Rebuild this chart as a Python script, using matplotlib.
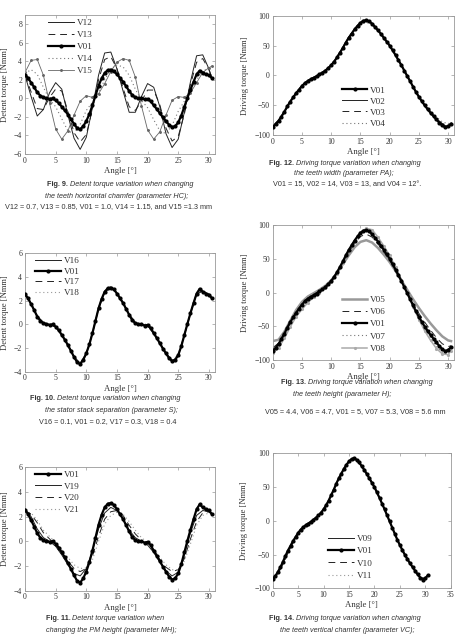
import numpy as np
import matplotlib.pyplot as plt
from matplotlib import font_manager

plt.rcParams['font.family'] = 'Liberation Serif'
plt.rcParams['axes.unicode_minus'] = True

_names = {f.name for f in font_manager.fontManager.ttflist}
CAP_FONT = 'Liberation Sans Narrow' if 'Liberation Sans Narrow' in _names else 'Liberation Sans'
CAP_SIZE = 6.2 if CAP_FONT == 'Liberation Sans Narrow' else 5.25

# ==================== data ====================
ang_fine = np.arange(0, 31, 0.5)          # 0 ... 30.5, step 0.5 deg
ang = np.append(np.arange(0, 31), 30.5)   # 0 ... 30, 30.5

# detent torque, reference design V01
det_v01 = [2.55, 2.2, 1.7, 1.2, 0.65, 0.3, 0.1, 0.0, -0.05, 0.0,
           -0.2, -0.5, -0.9, -1.3, -1.75, -2.25, -2.75, -3.2, -3.35, -3.0,
           -2.45, -1.7, -0.75, 0.3, 1.35, 2.15, 2.75, 3.05, 3.1, 2.95,
           2.6, 2.2, 1.8, 1.3, 0.8, 0.35, 0.1, 0.0, 0.0, -0.1,
           -0.05, -0.3, -0.75, -1.15, -1.6, -2.05, -2.45, -2.85, -3.1, -3.0,
           -2.6, -1.85, -0.9, 0.05, 0.95, 1.8, 2.6, 3.0, 2.75, 2.6,
           2.5, 2.2]

# Fig. 9 (horizontal chamfer)
det_v12 = [2.5, 0.2, -1.9, -1.2, 0.6, 1.7, 1.0, -1.8, -4.3, -5.5, -4.2, -1.0, 2.5, 4.9, 5.0, 3.2,
           0.8, -1.5, -1.5, 0.2, 1.6, 1.2, -0.9, -3.8, -5.3, -4.4, -1.5, 1.8, 4.6, 4.7, 3.2, 2.2]
det_v13 = [2.5, 0.7, -1.1, -1.2, 0.1, 1.0, 0.8, -1.4, -3.7, -4.7, -3.9, -1.2, 2.0, 4.2, 4.5, 3.2,
           1.1, -0.9, -1.3, -0.3, 0.9, 0.9, -0.7, -3.2, -4.6, -4.1, -1.7, 1.5, 3.9, 4.3, 3.1, 2.2]
det_v14 = [2.7, 3.1, 2.6, 1.2, -0.1, -0.9, -2.2, -3.5, -3.8, -2.8, -1.3, -0.4, 0.6, 2.0, 3.2, 3.6,
           3.4, 2.5, 1.0, -0.2, -1.0, -2.3, -3.5, -3.8, -2.9, -1.4, -0.3, 0.7, 2.0, 3.0, 3.2, 3.0]
det_v15 = [2.8, 4.1, 4.2, 2.5, -0.5, -3.3, -4.4, -3.5, -1.8, -0.3, 0.3, 0.1, 0.5, 1.6, 2.9, 3.9,
           4.3, 4.1, 2.3, -0.8, -3.4, -4.4, -3.6, -1.8, -0.2, 0.2, 0.1, 0.6, 1.7, 2.8, 3.3, 3.5]

# Fig. 10 (stator stack separation)
det_v16 = [2.6, 1.7, 0.7, 0.1, -0.05, -0.2, -0.9, -1.8, -2.8, -3.4, -2.5, -0.8, 1.3, 2.7, 3.1, 2.65,
           1.85, 0.85, 0.1, 0.0, -0.1, -0.8, -1.6, -2.5, -3.15, -2.65, -0.95, 0.9, 2.55, 2.8, 2.55, 2.25]
det_v17 = [2.55, 1.75, 0.7, 0.15, 0.0, -0.15, -0.85, -1.7, -2.7, -3.3, -2.45, -0.75, 1.4, 2.8, 3.15, 2.65,
           1.8, 0.8, 0.15, 0.0, -0.05, -0.7, -1.55, -2.4, -3.05, -2.6, -0.9, 1.0, 2.65, 2.8, 2.55, 2.25]
det_v18 = [2.6, 1.8, 0.75, 0.2, 0.0, -0.15, -0.8, -1.7, -2.7, -3.3, -2.4, -0.7, 1.4, 2.8, 3.2, 2.7,
           1.9, 0.9, 0.2, 0.05, 0.0, -0.7, -1.5, -2.4, -3.05, -2.55, -0.85, 1.0, 2.7, 2.85, 2.6, 2.3]

# Fig. 11 (PM height)
det_v19 = [2.5, 2.0, 1.0, 0.3, 0.0, -0.4, -1.1, -1.9, -2.6, -2.8, -2.2, -0.8, 1.0, 2.3, 2.75, 2.5,
           1.8, 0.9, 0.3, 0.0, -0.3, -0.9, -1.7, -2.4, -2.8, -2.5, -1.1, 0.7, 2.1, 2.5, 2.4, 2.2]
det_v20 = [2.5, 2.2, 1.5, 0.7, 0.2, -0.3, -0.9, -1.6, -2.2, -2.45, -2.2, -1.2, 0.4, 1.8, 2.4, 2.5,
           2.1, 1.3, 0.6, 0.1, -0.3, -0.8, -1.5, -2.1, -2.45, -2.3, -1.4, 0.2, 1.6, 2.3, 2.4, 2.3]
det_v21 = [2.4, 2.3, 1.7, 0.9, 0.4, -0.1, -0.7, -1.3, -1.9, -2.2, -2.15, -1.5, 0.0, 1.4, 2.1, 2.35,
           2.2, 1.6, 0.9, 0.3, -0.1, -0.6, -1.3, -1.9, -2.3, -2.3, -1.6, -0.2, 1.3, 2.1, 2.3, 2.2]

# driving torque, reference design V01
drv_v01 = [-86, -82, -76, -69, -61, -52, -44, -37, -30, -24,
           -18, -13, -9.5, -6.5, -4, -1.5, 1.5, 4.5, 8, 12,
           17, 23, 30, 38, 46, 55, 63, 70, 77, 83,
           88, 91.5, 92.5, 90.5, 86.5, 81, 75.5, 69.5, 63, 56.5,
           50, 42, 34, 25.5, 17, 8, -1, -10, -19, -28,
           -36, -43.5, -50.5, -57, -63, -68.5, -74, -79.5, -84, -87,
           -85, -81]

# Fig. 12 (teeth width)
drv_v02 = [-86, -76, -61, -44, -30, -17, -9, -4, 1.5, 8, 17, 31, 47, 64, 78, 88,
           92, 87, 76, 63, 50, 34, 17, -1, -19, -36, -50, -62, -73, -83, -86, -82]
drv_v03 = [-85, -75, -60, -43, -29, -17, -9, -3.5, 2, 8.5, 17.5, 31, 47, 64, 78, 88,
           91, 86, 76, 63, 50, 34, 17, -1, -19, -36, -50, -62, -72, -81, -84, -81]
drv_v04 = [-85, -75, -60, -43, -29, -16, -8, -3, 2, 9, 18, 31, 47, 64, 77, 86,
           89, 85, 75, 62, 49, 33, 16, -2, -19, -35, -49, -60, -70, -78, -81, -79]

# Fig. 13 (teeth height)
drv_v05 = [-72, -70, -58, -42, -26, -14, -6, -1, 4, 10, 18, 29, 42, 55, 67, 75,
           77.5, 74, 66, 56, 45, 32, 18, 4, -10, -23, -35, -46, -56, -65, -71, -72]
drv_v06 = [-82, -75, -60, -44, -29, -17, -8, -2.5, 2.5, 9, 17, 29.5, 44, 59, 73, 83,
           86.5, 82, 72, 60, 48, 33, 17, 0, -16, -31, -44, -56, -67, -76, -80, -79]
drv_v07 = [-88, -80, -65, -48, -33, -21, -12, -5.5, 1, 8, 16, 29, 45, 62, 78, 89,
           94, 91, 80, 67, 53, 36, 18, -1, -20, -38, -54, -68, -80, -89, -90, -85]
drv_v08 = [-89, -82, -68, -51, -36, -25, -15, -7, 0, 7, 15, 28, 44, 61, 77, 89,
           95, 93, 82, 69, 55, 38, 19, -1, -21, -40, -57, -71, -83, -91, -92, -86]

# Fig. 14 (teeth vertical chamfer)
drv_v09 = [-86, -77, -62, -45, -31, -18, -10, -4, 1.5, 8, 17, 30, 46, 63, 77, 88,
           92.5, 86.5, 75.5, 63, 50, 34, 17, -1, -19, -36, -50.5, -63, -74, -84, -85, -81]
drv_v10 = [-87, -79, -65, -48, -33, -20, -11, -4.5, 1, 7.5, 16.5, 29.5, 45.5, 62.5, 77, 88,
           92, 86, 75, 63, 50, 34, 17, -1, -19, -36, -50, -63, -74, -84, -85, -81]
drv_v11 = [-86, -78, -64, -47, -32, -19, -10, -4, 1.5, 8, 17, 30, 46, 63, 77, 88,
           92, 86, 75, 63, 50, 34, 17, -1, -19, -36, -50, -63, -74, -84, -85, -81]

# ==================== styles ====================
S_V01 = dict(color='black', lw=1.6, marker='o', ms=2.0, zorder=4)
S_SOLID = dict(color='#222222', lw=0.7, ls='-')
S_DASH = dict(color='#222222', lw=0.7, ls=(0, (7, 5)))
S_DOT = dict(color='#777777', lw=0.8, ls=(0, (1, 2.5)))
S_DOTLIGHT = dict(color='#999999', lw=0.8, ls=(0, (1, 2.5)))
S_GRAYMK = dict(color='#666666', lw=0.6, marker='.', ms=2.2)
S_GRAYTHICK = dict(color='#999999', lw=1.8, ls='-')
S_GRAYMK2 = dict(color='#aaaaaa', lw=1.1, marker='.', ms=2.5)

W, H = 461, 639
fig = plt.figure(figsize=(W / 100, H / 100), dpi=100)


def add_px_axes(l, t, r, b):
    return fig.add_axes([l / W, 1 - b / H, (r - l) / W, (b - t) / H])


def style_axes(ax, xmax, xticks, ylim, yticks, ylabel, ylab_x):
    ax.set_xlim(0, xmax)
    ax.set_xticks(xticks)
    ax.set_ylim(*ylim)
    ax.set_yticks(yticks)
    for sp in ax.spines.values():
        sp.set_color('#999999')
        sp.set_linewidth(0.6)
    ax.tick_params(direction='in', length=2.5, width=0.5, color='#999999',
                   labelcolor='#333333', labelsize=5.6, top=True, right=True, pad=2)
    ax.set_xlabel('Angle [°]', fontsize=6.3, color='#333333', labelpad=1.5)
    ax.set_ylabel(ylabel, fontsize=6.2, color='#333333')
    ax.yaxis.set_label_coords(ylab_x, 0.5)


def draw(ax, series, anchor, spacing):
    for label, x, y, st in series:
        ax.plot(x, y, label=label, **st)
    ax.legend(loc='upper left', bbox_to_anchor=anchor, frameon=False, fontsize=6.6,
              borderpad=0, borderaxespad=0, handlelength=2.8, handletextpad=0.3,
              labelspacing=spacing, numpoints=1, labelcolor='#333333')


def caption(x_bold, y1, num, rest, x2, y2, line2, x3, y3, line3, ax):
    col = '#333333'
    t = fig.text(x_bold / W, 1 - y1 / H, f'Fig. {num}.', family=CAP_FONT, fontsize=CAP_SIZE,
                 fontweight='bold', color=col, va='center', ha='left')
    ax.annotate(rest, xy=(1, 0.5), xycoords=t, va='center', ha='left', family=CAP_FONT,
                fontsize=CAP_SIZE, fontstyle='italic', color=col)
    fig.text(x2 / W, 1 - y2 / H, line2, family=CAP_FONT, fontsize=CAP_SIZE,
             fontstyle='italic', color=col, va='center', ha='center')
    fig.text(x3 / W, 1 - y3 / H, line3, family=CAP_FONT, fontsize=CAP_SIZE,
             color=col, va='center', ha='center')


det_ticks_x = [0, 5, 10, 15, 20, 25, 30]

# ---- Fig. 9 ----
ax9 = add_px_axes(25, 15, 215, 154)
draw(ax9, [('V12', ang, det_v12, S_SOLID),
           ('V13', ang, det_v13, S_DASH),
           ('V01', ang_fine, det_v01, S_V01),
           ('V14', ang, det_v14, S_DOT),
           ('V15', ang, det_v15, S_GRAYMK)], (0.121, 0.975), 0.4)
style_axes(ax9, 31, det_ticks_x, (-6, 9), [-6, -4, -2, 0, 2, 4, 6, 8], 'Detent torque [Nmm]', -0.085)
caption(46.7, 185, 9, ' Detent torque variation when changing', 117, 196,
        'the teeth horizontal chamfer (parameter HC);', 108, 207,
        'V12 = 0.7, V13 = 0.85, V01 = 1.0, V14 = 1.15, and V15 =1.3 mm', ax9)

# ---- Fig. 10 ----
ax10 = add_px_axes(25, 253.3, 215, 371.7)
draw(ax10, [('V16', ang, det_v16, S_SOLID),
            ('V01', ang_fine, det_v01, S_V01),
            ('V17', ang, det_v17, S_DASH),
            ('V18', ang, det_v18, S_DOTLIGHT)], (0.053, 0.972), 0.25)
style_axes(ax10, 31, det_ticks_x, (-4, 6), [-4, -2, 0, 2, 4, 6], 'Detent torque [Nmm]', -0.085)
caption(30, 399, 10, ' Detent torque variation when changing', 111.7, 411,
        'the stator stack separation (parameter S);', 108, 422,
        'V16 = 0.1, V01 = 0.2, V17 = 0.3, V18 = 0.4', ax10)

# ---- Fig. 11 ----
ax11 = add_px_axes(25, 467.3, 215, 590.7)
draw(ax11, [('V01', ang_fine, det_v01, S_V01),
            ('V19', ang, det_v19, S_SOLID),
            ('V20', ang, det_v20, S_DASH),
            ('V21', ang, det_v21, S_DOTLIGHT)], (0.053, 0.975), 0.36)
style_axes(ax11, 31, det_ticks_x, (-4, 6), [-4, -2, 0, 2, 4, 6], 'Detent torque [Nmm]', -0.085)
caption(45.7, 619, 11, ' Detent torque variation when', 111.7, 630,
        'changing the PM height (parameter MH);', 108, 641.5,
        'V01 = 10, V19 = 10.3, V20 = 10.6, and V21 = 11.1', ax11)

# ---- Fig. 12 ----
ax12 = add_px_axes(272.7, 15.7, 454, 135)
draw(ax12, [('V01', ang_fine, drv_v01, S_V01),
            ('V02', ang, drv_v02, S_SOLID),
            ('V03', ang, drv_v03, S_DASH),
            ('V04', ang, drv_v04, S_DOT)], (0.381, 0.41), 0.29)
style_axes(ax12, 31, det_ticks_x, (-100, 100), [-100, -50, 0, 50, 100], 'Driving torque [Nmm]', -0.133)
caption(269.3, 164, 12, ' Driving torque variation when changing', 344, 174,
        'the teeth width (parameter PA);', 346.7, 185,
        'V01 = 15, V02 = 14, V03 = 13, and V04 = 12°.', ax12)

# ---- Fig. 13 ----
ax13 = add_px_axes(272.7, 225, 454, 360)
draw(ax13, [('V05', ang, drv_v05, S_GRAYTHICK),
            ('V06', ang, drv_v06, S_DASH),
            ('V01', ang_fine, drv_v01, S_V01),
            ('V07', ang, drv_v07, S_DOT),
            ('V08', ang, drv_v08, S_GRAYMK2)], (0.381, 0.478), 0.42)
style_axes(ax13, 31, det_ticks_x, (-100, 100), [-100, -50, 0, 50, 100], 'Driving torque [Nmm]', -0.133)
caption(280.7, 383, 13, ' Driving torque variation when changing', 342.5, 394,
        'the teeth height (parameter H);', 355, 411.5,
        'V05 = 4.4, V06 = 4.7, V01 = 5, V07 = 5.3, V08 = 5.6 mm', ax13)

# ---- Fig. 14 ----
ax14 = add_px_axes(272.7, 453.3, 450.7, 588.3)
draw(ax14, [('V09', ang, drv_v09, S_SOLID),
            ('V01', ang_fine, drv_v01, S_V01),
            ('V10', ang, drv_v10, S_DASH),
            ('V11', ang, drv_v11, S_DOTLIGHT)], (0.312, 0.398), 0.43)
style_axes(ax14, 35, [0, 5, 10, 15, 20, 25, 30, 35], (-100, 100), [-100, -50, 0, 50, 100],
           'Driving torque [Nmm]', -0.136)
caption(269.3, 619, 14, ' Driving torque variation when changing', 347, 630,
        'the teeth vertical chamfer (parameter VC);', 346.7, 641.5,
        'V09 = -0.5, V01 = 0, V10 = 0.5, V11 = 1 mm', ax14)

fig.savefig('out.png', dpi=100)
